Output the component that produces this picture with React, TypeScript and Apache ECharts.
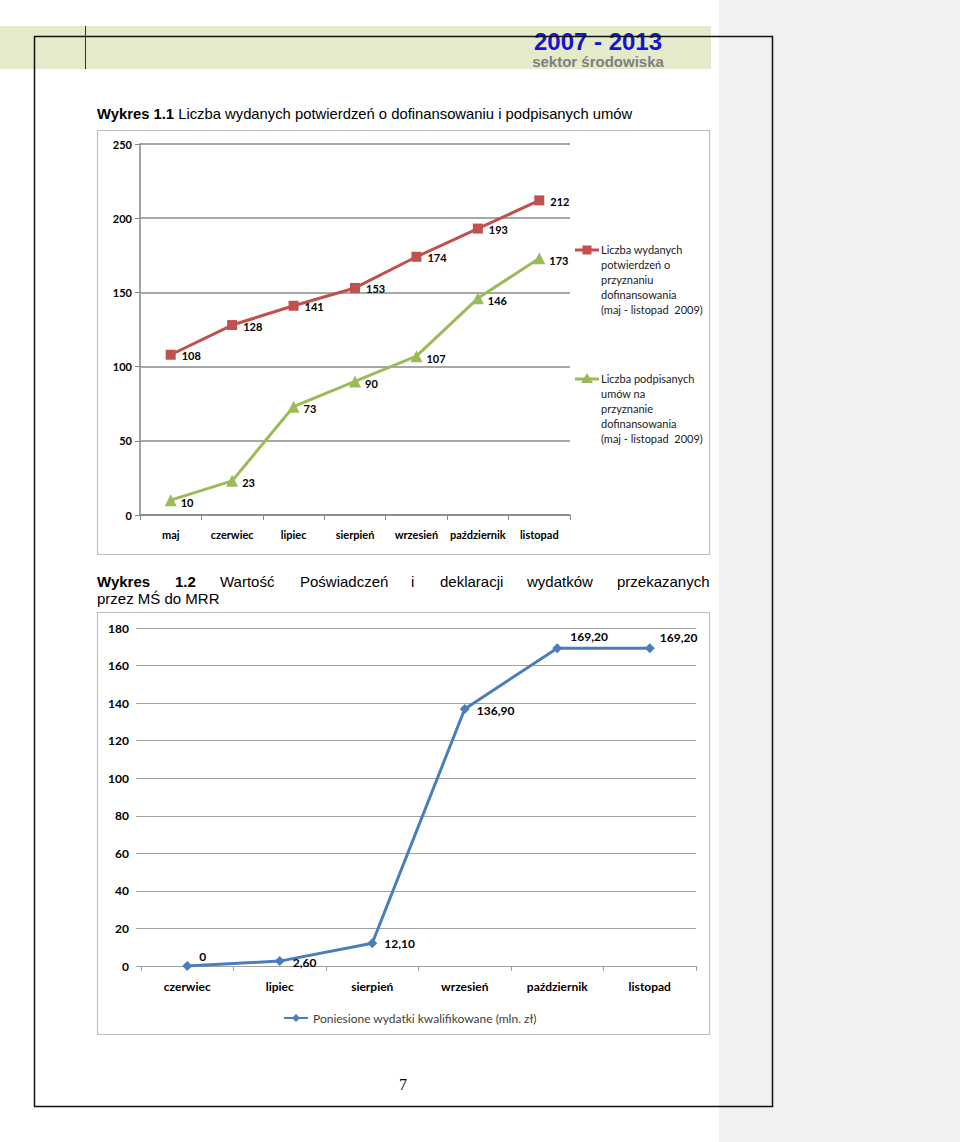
import React, { useEffect, useRef } from "react";
import * as echarts from "echarts";

const months1 = ["maj", "czerwiec", "lipiec", "sierpień", "wrzesień", "październik", "listopad"];
const confirmations = [108, 128, 141, 153, 174, 193, 212];
const contracts = [10, 23, 73, 90, 107, 146, 173];
const y1Max = 250;
const y1Step = 50;

const months2 = ["czerwiec", "lipiec", "sierpień", "wrzesień", "październik", "listopad"];
const expenses = [0, 2.6, 12.1, 136.9, 169.2, 169.2];
const y2Max = 180;
const y2Step = 20;

const name1 = "Liczba wydanych potwierdzeń o przyznaniu dofinansowania (maj - listopad 2009)";
const name2 = "Liczba podpisanych umów na przyznanie dofinansowania (maj - listopad 2009)";
const name3 = "Poniesione wydatki kwalifikowane (mln. zł)";
const legend1Lines = ["Liczba wydanych", "potwierdzeń o", "przyznaniu", "dofinansowania", "(maj - listopad  2009)"];
const legend2Lines = ["Liczba podpisanych", "umów na", "przyznanie", "dofinansowania", "(maj - listopad  2009)"];

const caption2Words = ["Wykres", "1.2", "Wartość", "Poświadczeń", "i", "deklaracji", "wydatków", "przekazanych"];

const RED = "#c0504d";
const GREEN = "#9bbb59";
const BLUE = "#4a7ebb";
const CAL = "Lato, 'Open Sans', sans-serif";
const NARROW = "'Liberation Sans Narrow', 'Liberation Sans', Arial, sans-serif";

export default function App() {
  const ref = useRef<HTMLDivElement>(null);
  useEffect(() => {
    if (!ref.current) return;
    const chart = echarts.init(ref.current, null, { renderer: "svg" });

    const fmt = (v: number) => (v === 0 ? "0" : v.toFixed(2).replace(".", ","));
    const blueLabelCfg = [
      { distance: 5, offset: [2, -10] },
      { distance: 8, offset: [0, 1] },
      { distance: 7, offset: [0, 0] },
      { distance: 7, offset: [0, 2] },
      { distance: 8, offset: [0, -12] },
      { distance: 5, offset: [0, -11] },
    ];

    const captionX = [97, 175, 220, 300, 411, 440, 527, 617];

    const graphic: any[] = [
      { type: "rect", z: -10, shape: { x: 719, y: 0, width: 241, height: 1142 }, style: { fill: "#f1f1f1" } },
      { type: "rect", z: -10, shape: { x: 0, y: 26, width: 711, height: 43 }, style: { fill: "#e4eaca" } },
      { type: "line", z: -5, shape: { x1: 85.5, y1: 26, x2: 85.5, y2: 69 }, style: { stroke: "#333", lineWidth: 1 } },
      {
        type: "text", z: -4, x: 598, y: 41,
        style: { text: "2007 - 2013", fill: "#1414d2", font: `bold 24px ${NARROW}`, lineHeight: 22, align: "center", verticalAlign: "middle" },
      },
      {
        type: "text", z: -4, x: 598, y: 61,
        style: { text: "sektor środowiska", fill: "#7f7f7f", font: `bold 15px ${NARROW}`, lineHeight: 13, align: "center", verticalAlign: "middle" },
      },
      { type: "rect", z: -3, shape: { x: 34.5, y: 36.5, width: 738, height: 1070 }, style: { fill: "none", stroke: "#111", lineWidth: 1.5 } },
      {
        type: "text", z: -2, x: 97, y: 114,
        style: {
          text: "{b|Wykres 1.1} Liczba wydanych potwierdzeń o dofinansowaniu i podpisanych umów",
          font: `14.8px ${NARROW}`, fill: "#000", verticalAlign: "middle",
          rich: { b: { fontWeight: "bold", fontSize: 14.8, fontFamily: NARROW } },
        },
      },
      { type: "rect", z: -2, shape: { x: 97.5, y: 130.5, width: 612, height: 424 }, style: { fill: "#fff", stroke: "#bdbdbd", lineWidth: 1.2 } },
      { type: "rect", z: -2, shape: { x: 97.5, y: 612.5, width: 612, height: 422 }, style: { fill: "#fff", stroke: "#bdbdbd", lineWidth: 1.2 } },
      ...caption2Words.map((w, i) => ({
        type: "text", z: -2, x: captionX[i], y: 581,
        style: { text: w, font: `${i < 2 ? "bold " : ""}15px ${NARROW}`, fill: "#000", verticalAlign: "middle" },
      })),
      {
        type: "text", z: -2, x: 97, y: 598,
        style: { text: "przez MŚ do MRR", font: `15px ${NARROW}`, fill: "#000", verticalAlign: "middle" },
      },
      {
        type: "text", z: -2, x: 403, y: 1084,
        style: { text: "7", font: "16px 'Liberation Serif', serif", fill: "#000", align: "center", verticalAlign: "middle" },
      },
      // legend chart 1
      { type: "line", z: 5, shape: { x1: 575, y1: 250, x2: 599, y2: 250 }, style: { stroke: RED, lineWidth: 3 } },
      { type: "rect", z: 6, shape: { x: 582.5, y: 245.5, width: 9, height: 9 }, style: { fill: RED } },
      {
        type: "text", z: 5, x: 601, y: 242.6,
        style: { text: legend1Lines.join("\n"), font: `11px ${CAL}`, lineHeight: 14.8, fill: "#1a1a1a", verticalAlign: "top" },
      },
      { type: "line", z: 5, shape: { x1: 575, y1: 379, x2: 599, y2: 379 }, style: { stroke: GREEN, lineWidth: 3 } },
      { type: "polygon", z: 6, shape: { points: [[587, 373], [593, 383], [581, 383]] }, style: { fill: GREEN } },
      {
        type: "text", z: 5, x: 601, y: 371.6,
        style: { text: legend2Lines.join("\n"), font: `11px ${CAL}`, lineHeight: 14.8, fill: "#1a1a1a", verticalAlign: "top" },
      },
    ];

    chart.setOption({
      animation: false,
      graphic,
      legend: {
        data: [name3],
        left: 278,
        top: 1007,
        itemWidth: 24,
        itemHeight: 10,
        itemGap: 4,
        textStyle: { fontFamily: CAL, fontSize: 12, color: "#404040" },
      },
      grid: [
        { left: 140, top: 144, width: 430, height: 371 },
        { left: 141, top: 628, width: 555, height: 338 },
      ],
      xAxis: [
        {
          type: "category", gridIndex: 0, data: months1, boundaryGap: true,
          axisLine: { lineStyle: { color: "#868686", width: 1.5 } },
          axisTick: { show: true, length: 5, lineStyle: { color: "#868686" } },
          axisLabel: { fontFamily: CAL, fontSize: 11, fontWeight: "bold", color: "#000", margin: 14, interval: 0 },
        },
        {
          type: "category", gridIndex: 1, data: months2, boundaryGap: true,
          axisLine: { lineStyle: { color: "#a0a0a0", width: 1 } },
          axisTick: { show: true, length: 5, lineStyle: { color: "#a0a0a0" } },
          axisLabel: { fontFamily: CAL, fontSize: 12, fontWeight: "bold", color: "#000", margin: 14, interval: 0 },
        },
      ],
      yAxis: [
        {
          type: "value", gridIndex: 0, min: 0, max: y1Max, interval: y1Step,
          axisLine: { show: true, lineStyle: { color: "#868686", width: 1.5 } },
          axisTick: { show: true, length: 5, lineStyle: { color: "#868686" } },
          splitLine: { show: true, lineStyle: { color: "#8a8a8a", width: 1.5 } },
          axisLabel: { fontFamily: CAL, fontSize: 11, fontWeight: "bold", color: "#000", margin: 8 },
        },
        {
          type: "value", gridIndex: 1, min: 0, max: y2Max, interval: y2Step,
          axisLine: { show: false },
          axisTick: { show: true, length: 5, lineStyle: { color: "#a0a0a0" } },
          splitLine: { show: true, lineStyle: { color: "#a0a0a0", width: 1 } },
          axisLabel: { fontFamily: CAL, fontSize: 12, fontWeight: "bold", color: "#000", margin: 12 },
        },
      ],
      series: [
        {
          name: name1, type: "line", xAxisIndex: 0, yAxisIndex: 0, data: confirmations,
          symbol: "rect", symbolSize: 10,
          lineStyle: { color: RED, width: 3 }, itemStyle: { color: RED },
          label: { show: true, position: "right", distance: 6, offset: [0, 1], fontFamily: CAL, fontSize: 11, fontWeight: "bold", color: "#000" },
        },
        {
          name: name2, type: "line", xAxisIndex: 0, yAxisIndex: 0, data: contracts,
          symbol: "triangle", symbolSize: 12,
          lineStyle: { color: GREEN, width: 3 }, itemStyle: { color: GREEN },
          label: { show: true, position: "right", distance: 4, offset: [0, 2], fontFamily: CAL, fontSize: 11, fontWeight: "bold", color: "#000" },
        },
        {
          name: name3, type: "line", xAxisIndex: 1, yAxisIndex: 1,
          data: expenses.map((v, i) => ({
            value: v,
            label: { distance: blueLabelCfg[i].distance, offset: blueLabelCfg[i].offset },
          })),
          symbol: "diamond", symbolSize: 10,
          lineStyle: { color: BLUE, width: 3 }, itemStyle: { color: BLUE },
          label: {
            show: true, position: "right", fontFamily: CAL, fontSize: 12, fontWeight: "bold", color: "#000",
            formatter: (p: any) => fmt(p.value as number),
          },
        },
      ],
    });
    return () => chart.dispose();
  }, []);
  return <div ref={ref} style={{ position: "absolute", left: 0, top: 0, width: 960, height: 1142, background: "#fff" }} />;
}
